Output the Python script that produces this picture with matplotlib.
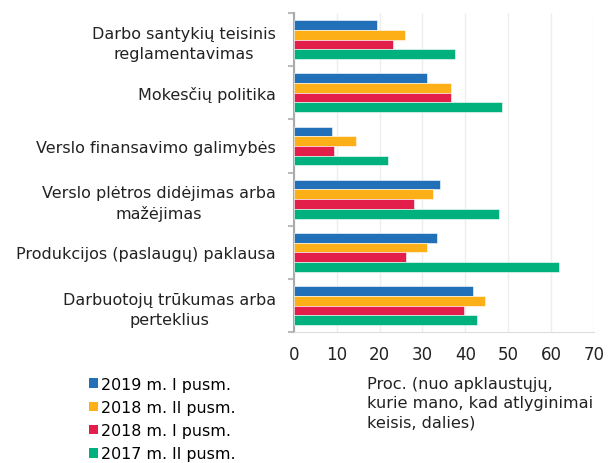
import numpy as np
import matplotlib.pyplot as plt
from matplotlib.patches import Patch

categories = [
    "Darbo santykių teisinis\nreglamentavimas",
    "Mokesčių politika",
    "Verslo finansavimo galimybės",
    "Verslo plėtros didėjimas arba\nmažėjimas",
    "Produkcijos (paslaugų) paklausa",
    "Darbuotojų trūkumas arba\nperteklius",
]
series_names = ["2019 m. I pusm.", "2018 m. II pusm.", "2018 m. I pusm.", "2017 m. II pusm."]
v_2019_1 = [19.4, 31.0, 8.8, 34.2, 33.5, 41.8]
v_2018_2 = [25.9, 36.6, 14.5, 32.4, 31.0, 44.6]
v_2018_1 = [23.2, 36.6, 9.4, 28.1, 26.2, 39.7]
v_2017_2 = [37.7, 48.5, 21.9, 47.8, 61.9, 42.7]
colors = ["#2271b8", "#fdaf17", "#e41e4a", "#00b07d"]
x_ticks = [0, 10, 20, 30, 40, 50, 60, 70]

plt.rcParams["font.family"] = ["DejaVu Sans"]

fig = plt.figure(figsize=(6.11, 4.64), dpi=100)
ax = fig.add_axes([0.481, 0.282, 0.491, 0.688])

series = [v_2019_1, v_2018_2, v_2018_1, v_2017_2]
y = np.arange(len(categories))
h = 0.182
for i, (vals, c) in enumerate(zip(series, colors)):
    ax.barh(y + (i - 1.5) * h, vals, height=h, color=c,
            edgecolor="white", linewidth=0.4, zorder=3)

ax.set_xlim(0, 70)
ax.set_ylim(len(categories) - 0.5, -0.5)
ax.set_xticks(x_ticks)
ax.tick_params(axis="x", length=0, labelsize=12, pad=9, colors="#222222")

ax.set_yticks(y)
ax.set_yticklabels(categories, fontsize=11.5, color="#222222")
for lbl in ax.get_yticklabels():
    lbl.set_multialignment("center")
    lbl.set_linespacing(1.4)
ax.tick_params(axis="y", which="major", length=0, pad=13)
ax.set_yticks(np.arange(-0.5, len(categories)), minor=True)
ax.tick_params(axis="y", which="minor", length=4, width=1.5, color="#bbbbbb")

ax.grid(axis="x", color="#eeeeee", linewidth=1, zorder=0)
for s in ["top", "right"]:
    ax.spines[s].set_visible(False)
ax.spines["left"].set_color("#aaaaaa")
ax.spines["left"].set_linewidth(1.5)
ax.spines["bottom"].set_color("#dddddd")

handles = [Patch(facecolor=c, edgecolor="none") for c in colors]
fig.legend(handles, series_names, loc="upper left", bbox_to_anchor=(0.146, 0.186),
           frameon=False, fontsize=11.4, handlelength=0.55, handleheight=0.55,
           handletextpad=0.2, labelspacing=0.52, borderaxespad=0, borderpad=0)

fig.text(0.600, 0.188, "Proc. (nuo apklaustųjų,\nkurie mano, kad atlyginimai\nkeisis, dalies)",
         fontsize=11.6, color="#222222", va="top", ha="left", linespacing=1.35)

fig.savefig("out.png", dpi=100)
